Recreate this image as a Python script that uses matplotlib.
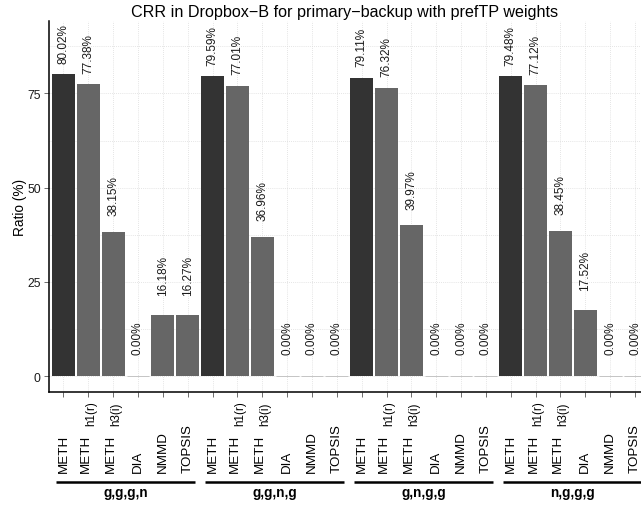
import matplotlib
matplotlib.use("Agg")
import matplotlib.pyplot as plt
import matplotlib.transforms as mtransforms
import numpy as np

plt.rcParams['font.family'] = ['Liberation Sans', 'DejaVu Sans']

# Data
groups = ["g,g,g,n", "g,g,n,g", "g,n,g,g", "n,g,g,g"]
methods = ["METH", "METH", "METH", "DIA", "NMMD", "TOPSIS"]
method_subs = ["", "h1(r)", "h3(i)", "", "", ""]
values = [
    [80.02, 77.38, 38.15, 0.00, 16.18, 16.27],
    [79.59, 77.01, 36.96, 0.00, 0.00, 0.00],
    [79.11, 76.32, 39.97, 0.00, 0.00, 0.00],
    [79.48, 77.12, 38.45, 17.52, 0.00, 0.00],
]
yticks = [0, 25, 50, 75]

dark = "#333333"
mid = "#666666"

fig = plt.figure(figsize=(6.41, 5.06), dpi=100)
ax = fig.add_axes([49 / 641, 113 / 506, 592 / 641, 371 / 506])

n_m = len(methods)
xs = []
for gi, gvals in enumerate(values):
    for mi, v in enumerate(gvals):
        x = gi * n_m + mi
        xs.append(x)
        color = dark if mi == 0 else mid
        if v > 0:
            ax.bar(x, v, width=0.92, color=color, linewidth=0, zorder=2)
        else:
            ax.bar(x, v, width=0.92, color=color, edgecolor="#c4c4c4",
                   linewidth=0.7, zorder=2)
        ax.text(x, v * 0.965 + 5.85, f"{v:.2f}%", rotation=90,
                ha="center", va="bottom", fontsize=8.5, color="#1a1a1a",
                zorder=3)

ax.set_xlim(-0.58, 23.24)
ax.set_ylim(-4.2, 94.2)

# Grid
for gy in np.arange(0, 90, 12.5):
    ax.axhline(gy, color="#dcdcdc", linestyle=(0, (1, 1.5)), linewidth=0.6, zorder=0)
for x in xs:
    ax.axvline(x, color="#dcdcdc", linestyle=(0, (1, 1.5)), linewidth=0.6, zorder=0)

ax.set_yticks(yticks)
ax.set_yticklabels([str(t) for t in yticks], fontsize=8.7, color="#1a1a1a")
ax.set_xticks(xs)
ax.set_xticklabels([])
ax.tick_params(axis="both", length=3.5, width=0.6, color="#555555", pad=2.5)

for s in ["top", "right"]:
    ax.spines[s].set_visible(False)
ax.spines["left"].set_linewidth(1.1)
ax.spines["bottom"].set_linewidth(1.1)

ax.set_ylabel("Ratio (%)", fontsize=9.8, labelpad=0)
ax.set_title("CRR in Dropbox\u2212B for primary\u2212backup with prefTP weights",
             fontsize=11.6, pad=3.6)

trans = mtransforms.blended_transform_factory(ax.transData, ax.transAxes)
lab_y = -80 / 371
sub_y = -33 / 371
for gi, g in enumerate(groups):
    for mi, (m, sub) in enumerate(zip(methods, method_subs)):
        x = gi * n_m + mi
        if sub:
            t_main = mtransforms.offset_copy(trans, fig=fig, x=-2.2, y=0, units="dots")
            t_sub = mtransforms.offset_copy(trans, fig=fig, x=2.8, y=0, units="dots")
            ax.text(x, lab_y, m, rotation=90, ha="center", va="bottom",
                    fontsize=9.6, transform=t_main, clip_on=False)
            ax.text(x, sub_y, sub, rotation=90, ha="center", va="bottom",
                    fontsize=8.4, transform=t_sub, clip_on=False)
        else:
            ax.text(x, lab_y, m, rotation=90, ha="center", va="bottom",
                    fontsize=9.6, transform=trans, clip_on=False)
    x0 = gi * n_m - 0.3
    x1 = gi * n_m + n_m - 1 + 0.3
    ax.plot([x0, x1], [-90 / 371, -90 / 371], color="black", linewidth=1.8,
            transform=trans, clip_on=False, solid_capstyle="butt")
    ax.text((x0 + x1) / 2, -100 / 371, g, ha="center", va="center",
            fontsize=9.8, fontweight="bold", transform=trans, clip_on=False)

fig.savefig("out.png", dpi=100)
